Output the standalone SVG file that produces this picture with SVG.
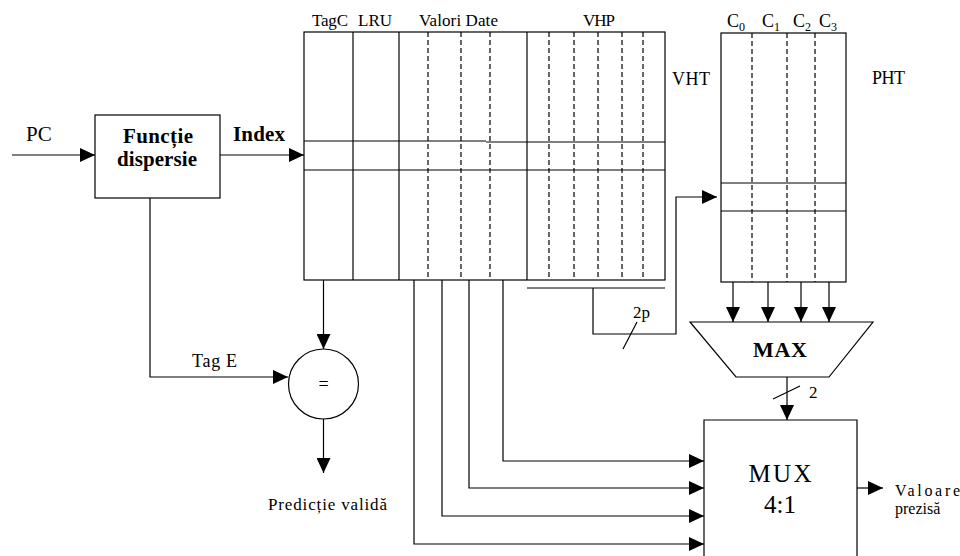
<svg xmlns="http://www.w3.org/2000/svg" width="960" height="556" viewBox="0 0 960 556">
<defs>
<marker id="ah" markerUnits="userSpaceOnUse" markerWidth="16" markerHeight="14" refX="15" refY="7" orient="auto">
<path d="M0,0 L15,7 L0,14 Z" fill="#000"/>
</marker>
</defs>
<style>
.ln{stroke:#000;stroke-width:1.2;fill:none}
.ds{stroke:#000;stroke-width:1.2;fill:none;stroke-dasharray:5,3}
.ar{stroke:#000;stroke-width:1.2;fill:none;marker-end:url(#ah)}
text{font-family:"Liberation Serif","Times New Roman",serif;fill:#000}
.b{font-weight:bold}
</style>
<rect width="960" height="556" fill="#fff"/>

<g id="hash">
<rect class="ln" x="95" y="115" width="125" height="83"/>
<text class="b" x="158" y="143" font-size="21" text-anchor="middle" textLength="70">Funcție</text>
<text class="b" x="157" y="166" font-size="21" text-anchor="middle" textLength="80">dispersie</text>
</g>

<g id="vht">
<rect class="ln" x="304" y="32" width="361" height="248"/>
<line class="ln" x1="353" y1="32" x2="353" y2="280"/>
<line class="ln" x1="399" y1="32" x2="399" y2="280"/>
<line class="ln" x1="527" y1="32" x2="527" y2="280"/>
<line class="ln" x1="304" y1="141" x2="486" y2="141"/>
<line class="ln" x1="486" y1="142" x2="665" y2="142"/>
<line class="ln" x1="304" y1="170" x2="665" y2="170"/>
<line class="ds" x1="428" y1="32" x2="428" y2="280"/>
<line class="ds" x1="461" y1="32" x2="461" y2="280"/>
<line class="ds" x1="490" y1="32" x2="490" y2="280"/>
<line class="ds" x1="549" y1="32" x2="549" y2="280"/>
<line class="ds" x1="574" y1="32" x2="574" y2="280"/>
<line class="ds" x1="598" y1="32" x2="598" y2="280"/>
<line class="ds" x1="622" y1="32" x2="622" y2="280"/>
<line class="ds" x1="643" y1="32" x2="643" y2="280"/>
<text x="312" y="26" font-size="17" textLength="36">TagC</text>
<text x="358" y="26" font-size="17" textLength="34">LRU</text>
<text x="419" y="26" font-size="17" textLength="79">Valori Date</text>
<text x="583" y="26" font-size="17" textLength="32">VHP</text>
<text x="672" y="85" font-size="18" textLength="38">VHT</text>
</g>

<g id="pht">
<rect class="ln" x="721" y="33" width="125" height="249"/>
<line class="ds" x1="752" y1="33" x2="752" y2="282"/>
<line class="ds" x1="787" y1="33" x2="787" y2="282"/>
<line class="ds" x1="815" y1="33" x2="815" y2="282"/>
<line class="ln" x1="721" y1="183" x2="846" y2="183"/>
<line class="ln" x1="721" y1="211" x2="846" y2="211"/>
<text x="727" y="27" font-size="18">C<tspan font-size="12" dy="4">0</tspan></text>
<text x="762" y="27" font-size="18">C<tspan font-size="12" dy="4">1</tspan></text>
<text x="793" y="27" font-size="18">C<tspan font-size="12" dy="4">2</tspan></text>
<text x="819" y="27" font-size="18">C<tspan font-size="12" dy="4">3</tspan></text>
<text x="872" y="84" font-size="18" textLength="33">PHT</text>
</g>

<g id="max">
<path class="ln" d="M690,322 L873,322 L829,377 L736,377 Z"/>
<text class="b" x="780" y="357" font-size="22" text-anchor="middle" textLength="54">MAX</text>
</g>

<g id="mux">
<path class="ln" d="M704,556 L704,420 L857,420 L857,556"/>
<text x="780" y="482" font-size="25" text-anchor="middle" textLength="63">MUX</text>
<text x="780" y="513" font-size="25" text-anchor="middle">4:1</text>
</g>

<g id="cmp">
<circle class="ln" cx="323.5" cy="384" r="35"/>
<text x="323.5" y="390" font-size="18" text-anchor="middle">=</text>
</g>

<g id="connectors">
<line class="ar" x1="12" y1="155" x2="95" y2="155"/>
<line class="ar" x1="220" y1="155" x2="304" y2="155"/>
<polyline class="ar" points="150,198 150,377 288,377"/>
<line class="ar" x1="323.5" y1="280" x2="323.5" y2="349"/>
<line class="ar" x1="323.5" y1="419" x2="323.5" y2="473"/>
<polyline class="ar" points="503,280 503,461 704,461"/>
<polyline class="ar" points="469,280 469,488 704,488"/>
<polyline class="ar" points="442,280 442,516 704,516"/>
<polyline class="ar" points="414,280 414,544 704,544"/>
<line class="ln" x1="527" y1="288" x2="665" y2="288"/>
<polyline class="ar" points="593,288 593,334 676,334 676,197 717,197"/>
<line class="ln" x1="623" y1="349" x2="637" y2="322"/>
<line class="ar" x1="733" y1="282" x2="733" y2="322"/>
<line class="ar" x1="768" y1="282" x2="768" y2="322"/>
<line class="ar" x1="801" y1="282" x2="801" y2="322"/>
<line class="ar" x1="829" y1="282" x2="829" y2="322"/>
<line class="ar" x1="787" y1="377" x2="787" y2="420"/>
<line class="ln" x1="773" y1="399" x2="800" y2="386"/>
<line class="ar" x1="857" y1="488" x2="883" y2="488"/>
</g>

<g id="labels">
<text x="26" y="141" font-size="21">PC</text>
<text class="b" x="233" y="141" font-size="21" textLength="52">Index</text>
<text x="192" y="367" font-size="18" textLength="45">Tag E</text>
<text x="268" y="510" font-size="17" textLength="119">Predicție validă</text>
<text x="633" y="318" font-size="17">2p</text>
<text x="809" y="398" font-size="17">2</text>
<text x="895" y="496" font-size="16" textLength="65">Valoare</text>
<text x="895" y="514" font-size="16">prezisă</text>
</g>
</svg>
